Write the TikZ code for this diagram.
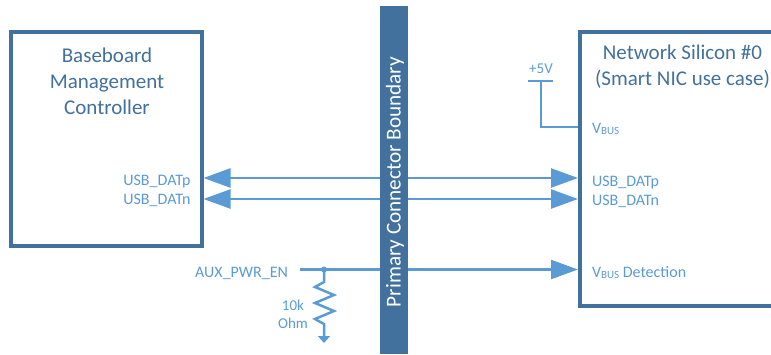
\documentclass[tikz,border=0pt]{standalone}
\usepackage{fontspec}
\setmainfont{Carlito}
\usepackage{xcolor}
\usetikzlibrary{arrows.meta}
\definecolor{boxblue}{HTML}{41719C}
\definecolor{wireblue}{HTML}{5B9BD5}
\newcommand{\vbus}{V{\fontsize{11}{12}\selectfont\raisebox{-1.5pt}{BUS}}}

\begin{document}
\begin{tikzpicture}[
	x=1pt,
	y=-1pt,
	line join=miter,
	every node/.style={font=\fontsize{16}{19}\selectfont,text=wireblue,inner sep=0pt,outer sep=0pt},
	box/.style={draw=boxblue,line width=4pt,fill=white},
	title/.style={font=\fontsize{21}{26}\selectfont,text=boxblue,align=center},
	wire/.style={draw=wireblue,line width=2.5pt},
	sig/.style={wire,-{Triangle[length=27pt,width=19pt]}},
	sigboth/.style={wire,{Triangle[length=27pt,width=19pt]}-{Triangle[length=27pt,width=19pt]}},
	small/.style={font=\fontsize{15}{18}\selectfont}
	]
	\useasboundingbox (0,0) rectangle (771,354);

	% boxes
	\node[box,minimum width=191pt,minimum height=214pt,anchor=north west] (bmc) at (11,32) {};
	\node[title] (bmctitle) at (107,81) {Baseboard\\Management\\Controller};
	\draw[draw=boxblue,line width=4pt] (771,32) coordinate (nictop) -- (579.5,32) coordinate (nicnw)
		-- (579.5,306) coordinate (nicsw) -- (771,306) coordinate (nicbot);
	\node[title] (nictitle) at (682.5,67) {Network Silicon \#0\\(Smart NIC use case)};

	% signals
	\foreach \y/\n/\a/\b in {178/p/185/186,199/n/204/205} {
		\coordinate (bmc\n) at (203.5,\y);
		\coordinate (nic\n) at (578,\y);
		\draw[sigboth] (bmc\n) -- (nic\n);
		\node[anchor=base east] (bmclabel\n) at (190.5,\a) {USB\_DAT\n};
		\node[anchor=base west] (niclabel\n) at (592,\b) {USB\_DAT\n};
	}

	% detection line
	\node[anchor=base east] (auxlabel) at (288,277) {AUX\_PWR\_EN};
	\coordinate (auxstart) at (300,269.5);
	\coordinate (nicdet) at (578,269.5);
	\draw[sig] (auxstart) -- (nicdet);
	\node[anchor=base west] (detlabel) at (592,277) {\vbus{} Detection};

	% pull down
	\coordinate (auxdot) at (324,269.5);
	\coordinate (gnd) at (324,343);
	\fill[wireblue] (auxdot) circle (3pt);
	\draw[wire,-{Triangle[length=7pt,width=12pt]}] (auxdot) -- (324,282) -- (315,287) -- (334,295) -- (315,303)
		-- (334,311) -- (315,319) -- (324,324) -- (gnd);
	\node[align=center,small] (reslabel) at (293,314) {10k\\Ohm};

	% supply
	\coordinate (railw) at (528,81);
	\coordinate (raile) at (553,81);
	\coordinate (railmid) at (541,81);
	\coordinate (nicvbus) at (578,127);
	\draw[wire] (railw) -- (raile);
	\draw[wire] (railmid) |- (nicvbus);
	\node[small] (railabel) at (541,69) {+5V};
	\node[anchor=base west] (vbuslabel) at (592,133) {\vbus};

	% connector bar
	\node[fill=boxblue,minimum width=28pt,minimum height=348pt,anchor=north west] (boundary) at (380,6) {};
	\node[rotate=90,text=white,font=\fontsize{21.2}{24}\selectfont] (boundarylabel) at (395,182) {Primary Connector Boundary};
\end{tikzpicture}
\end{document}
